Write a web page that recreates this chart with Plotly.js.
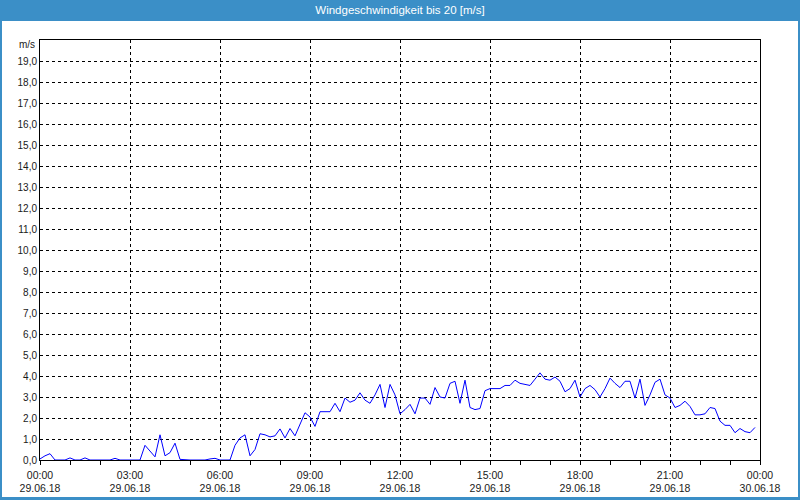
<!DOCTYPE html>
<html>
<head>
<meta charset="utf-8">
<script src="https://cdn.plot.ly/plotly-3.0.1.min.js"></script>
<style>
  html, body { margin: 0; padding: 0; background: #ffffff; }
  #chart { width: 800px; height: 500px; }
</style>
</head>
<body>
<div id="chart"></div>
<script>
// ---- data ----
const startTime = '2018-06-29 00:00';
const stepMinutes = 10;
const windSpeed = [
  0.05, 0.2, 0.3, 0, 0, 0, 0.1, 0, 0, 0.1,
  0, 0, 0, 0, 0, 0.08, 0, 0, 0, 0,
  0, 0.7, 0.4, 0.15, 1.2, 0.2, 0.35, 0.8, 0.03, 0,
  0, 0, 0, 0, 0.05, 0.08, 0, 0, 0, 0.7,
  1.05, 1.2, 0.2, 0.5, 1.25, 1.2, 1.1, 1.15, 1.48, 1.05,
  1.5, 1.15, 1.7, 2.25, 2.05, 1.6, 2.3, 2.3, 2.3, 2.7,
  2.3, 2.95, 2.75, 2.85, 3.2, 2.85, 2.7, 3.1, 3.6, 2.5,
  3.6, 3.1, 2.2, 2.4, 2.65, 2.2, 2.95, 2.95, 2.65, 3.45,
  3.0, 2.95, 3.65, 3.75, 2.7, 3.8, 2.5, 2.4, 2.45, 3.3,
  3.4, 3.4, 3.4, 3.55, 3.55, 3.8, 3.65, 3.6, 3.55, 3.85,
  4.15, 3.85, 3.8, 3.95, 3.75, 3.25, 3.4, 3.8, 3.0, 3.4,
  3.55, 3.35, 3.0, 3.4, 3.9, 3.65, 3.45, 3.75, 3.75, 2.95,
  3.85, 2.6, 3.1, 3.7, 3.85, 3.1, 2.95, 2.5, 2.6, 2.8,
  2.55, 2.15, 2.15, 2.2, 2.5, 2.45, 1.85, 1.65, 1.65, 1.3,
  1.5, 1.35, 1.3, 1.55
];
const xTickValues = ['2018-06-29 00:00','2018-06-29 03:00','2018-06-29 06:00','2018-06-29 09:00',
  '2018-06-29 12:00','2018-06-29 15:00','2018-06-29 18:00','2018-06-29 21:00','2018-06-30 00:00'];
const xTickTimes = ['00:00','03:00','06:00','09:00','12:00','15:00','18:00','21:00','00:00'];
const xTickDates = ['29.06.18','29.06.18','29.06.18','29.06.18','29.06.18','29.06.18','29.06.18','29.06.18','30.06.18'];
const yTickValues = [0,1,2,3,4,5,6,7,8,9,10,11,12,13,14,15,16,17,18,19];
const yTickLabels = ['0,0','1,0','2,0','3,0','4,0','5,0','6,0','7,0','8,0','9,0','10,0',
  '11,0','12,0','13,0','14,0','15,0','16,0','17,0','18,0','19,0'];
const chartTitle = 'Windgeschwindigkeit bis 20 [m/s]';
const unitLabel = 'm/s';

// ---- build time stamps ----
function pad(n) { return (n < 10 ? '0' : '') + n; }
const t0 = new Date(startTime.replace(' ', 'T') + ':00Z');
const times = windSpeed.map((_, i) => {
  const d = new Date(t0.getTime() + i * stepMinutes * 60000);
  return d.getUTCFullYear() + '-' + pad(d.getUTCMonth() + 1) + '-' + pad(d.getUTCDate()) +
    ' ' + pad(d.getUTCHours()) + ':' + pad(d.getUTCMinutes());
});

// ---- layout geometry ----
const W = 800, H = 500;
const M = { l: 40, r: 40, t: 40, b: 40 };
const PW = W - M.l - M.r, PH = H - M.t - M.b;
const px = x => (x - M.l) / PW;        // pixel x -> paper x
const py = y => (H - M.b - y) / PH;    // pixel y -> paper y
const blue = '#3b8fc7';
const font = 'Liberation Sans, Arial, sans-serif';

const trace = {
  type: 'scatter', mode: 'lines',
  x: times, y: windSpeed,
  line: { color: '#0000ff', width: 1 },
  hoverinfo: 'skip'
};

const layout = {
  width: W, height: H,
  margin: M,
  paper_bgcolor: '#ffffff', plot_bgcolor: '#ffffff',
  showlegend: false,
  font: { family: font, size: 10, color: '#1a1a1a' },
  title: {
    text: chartTitle,
    font: { family: font, size: 11.5, color: '#ffffff' },
    x: 0.5, xanchor: 'center',
    yref: 'container', y: 1 - 10 / H, yanchor: 'middle'
  },
  xaxis: {
    type: 'date',
    range: ['2018-06-29 00:00', '2018-06-30 00:00'],
    tickmode: 'array',
    tickvals: xTickValues,
    ticktext: xTickTimes.map((t, i) => t + '<br>' + xTickDates[i]),
    ticks: 'outside', ticklen: 4, tickcolor: '#000', tickwidth: 1,
    ticklabelstandoff: 1,
    minor: { dtick: 3600000, ticks: 'outside', ticklen: 4, tickcolor: '#000', showgrid: false },
    showgrid: true, gridcolor: '#000', gridwidth: 1, griddash: '3px,3px',
    showline: true, linecolor: '#000', linewidth: 1, mirror: true,
    zeroline: false,
    tickfont: { family: font, size: 10.5, color: '#1a1a1a' },
    fixedrange: true
  },
  yaxis: {
    range: [0, 20],
    tickmode: 'array',
    tickvals: yTickValues,
    ticktext: yTickLabels,
    ticks: '',
    showgrid: true, gridcolor: '#000', gridwidth: 1, griddash: '3px,3px',
    showline: true, linecolor: '#000', linewidth: 1, mirror: true,
    zeroline: false,
    tickfont: { family: font, size: 10, color: '#1a1a1a' },
    fixedrange: true
  },
  shapes: [
    { type: 'rect', xref: 'paper', yref: 'paper', x0: px(0), x1: px(W), y0: py(21), y1: py(0),
      fillcolor: blue, line: { width: 0 }, layer: 'below' },
    { type: 'rect', xref: 'paper', yref: 'paper', x0: px(0), x1: px(2), y0: py(H), y1: py(0),
      fillcolor: blue, line: { width: 0 }, layer: 'below' },
    { type: 'rect', xref: 'paper', yref: 'paper', x0: px(W - 2), x1: px(W), y0: py(H), y1: py(0),
      fillcolor: blue, line: { width: 0 }, layer: 'below' },
    { type: 'rect', xref: 'paper', yref: 'paper', x0: px(0), x1: px(W), y0: py(H), y1: py(H - 3),
      fillcolor: blue, line: { width: 0 }, layer: 'below' }
  ],
  annotations: [
    { text: unitLabel, xref: 'paper', yref: 'paper', x: 0, y: py(45),
      xanchor: 'right', yanchor: 'middle', xshift: -3, showarrow: false,
      font: { family: font, size: 10, color: '#1a1a1a' } }
  ]
};

Plotly.newPlot('chart', [trace], layout, { staticPlot: true, displayModeBar: false });
</script>
</body>
</html>
